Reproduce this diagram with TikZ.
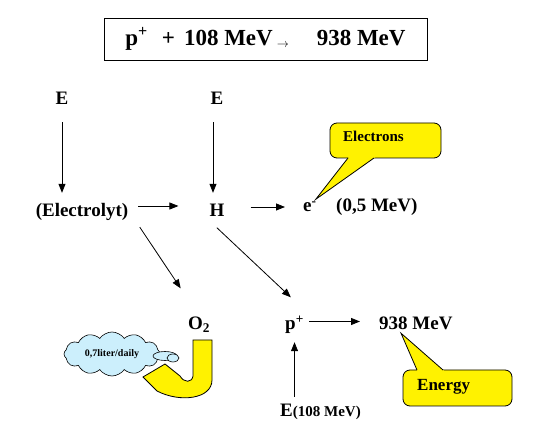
\documentclass[tikz,border=0pt]{standalone}
\usepackage{fontspec}
\setmainfont{Liberation Serif}
\usetikzlibrary{arrows.meta,shapes.symbols,calc}

\tikzset{
  lbl/.style={font=\fontsize{19}{22}\selectfont\bfseries, inner sep=1pt, text height=13pt, text depth=4pt},
  arr/.style={-{Triangle[length=9pt,width=7pt]}, line width=0.8pt},
  bubble/.style={fill=yellow, draw=black, line width=0.8pt},
}

\begin{document}
\begin{tikzpicture}[x=1pt,y=-1pt]
% 画布大小
\useasboundingbox[fill=white] (0,0) rectangle (539,443);

% 顶部方程
\node[draw, line width=0.8pt, minimum width=323pt, minimum height=42pt, inner sep=0pt,
      font=\fontsize{23}{25}\selectfont\bfseries] (eq) at (265.5,39)
  {p\textsuperscript{+}\hspace{14pt}+\hspace{9pt}108 MeV\hspace{4pt}\raisebox{-2pt}{\fontsize{12}{12}\selectfont$\rightarrow$}\hspace{28pt}938 MeV};

% 文字节点
\node[lbl] (eL) at (62,100.5) {E};
\node[lbl] (eM) at (217,100.5) {E};
\node[lbl] (elec) at (82,212.5) {(Electrolyt)};
\node[lbl] (h) at (217,212.5) {H};
\node[lbl, anchor=west] (el) at (302,207) {e\textsuperscript{-}};
\node[lbl, anchor=west] (mev) at (335,207) {(0,5 MeV)};
\node[lbl] (o2) at (199,325.5) {O\textsubscript{2}};
\node[lbl, anchor=west] (pp) at (284,325.5) {p\textsuperscript{+}};
\node[lbl, anchor=west] (big) at (378,325.5) {938 MeV};
\node[lbl, anchor=west] (eb) at (279,412.5) {E{\fontsize{15}{15}\selectfont(108 MeV)}};

% 箭头
\draw[arr, shorten <=12pt, shorten >=10pt] (eL.south) -- (eL.south |- elec.north);
\draw[arr, shorten <=12pt, shorten >=10pt] ([xshift=-4pt]eM.south) -- ([xshift=-4pt]eM.south |- h.north);
\draw[arr, shorten <=9pt, shorten >=30pt] ([yshift=6.5pt]elec.east) -- ([yshift=6.5pt]h.west);
\draw[arr, shorten <=25pt, shorten >=17pt] ([yshift=5.5pt]h.east) -- ([yshift=5.5pt]h.east -| el.west);
\draw[arr, shorten <=6pt, shorten >=33pt] ([xshift=7pt]elec.south east) -- (o2.north);
\draw[arr, shorten <=8pt, shorten >=27pt] ([xshift=-6pt]h.south) -- ([xshift=16pt]pp.north);
\draw[arr, shorten <=4pt, shorten >=18pt] ([yshift=4pt]pp.east) -- ([yshift=4pt]pp.east -| big.west);
\draw[arr, shorten <=6pt, shorten >=7pt] (pp.south |- eb.north) -- (pp.south);

% 气泡 Electrons
\draw[bubble, rounded corners=7pt] (330,123) rectangle (441,158);
\coordinate (tipA) at ([xshift=-2pt,yshift=-2pt]el.north east);
\fill[yellow] (tipA) -- ($(tipA)!1.06!(348,158)$) -- ($(tipA)!1.06!(374,158)$) -- cycle;
\draw[line width=0.8pt] (348,158) -- (tipA) -- (374,158);
\node[font=\fontsize{15}{15}\selectfont\bfseries, anchor=base west, inner sep=0pt] (etxt) at (343,142) {Electrons};

% 气泡 Energy
\draw[bubble, rounded corners=7pt] (403,370) rectangle (512,406);
\coordinate (tipB) at ([xshift=23pt,yshift=2pt]big.south west);
\fill[yellow] (tipB) -- ($(tipB)!1.06!(417,370)$) -- ($(tipB)!1.06!(443,370)$) -- cycle;
\draw[line width=0.8pt] (417,370) -- (tipB) -- (443,370);
\node[font=\fontsize{17}{17}\selectfont\bfseries, anchor=base west, inner sep=0pt] (ntxt) at (417,391) {Energy};

% 云
\node[cloud, cloud puffs=12, cloud puff arc=110, aspect=2.2, draw, line width=0.6pt, fill=cyan!20,
      minimum width=96pt, minimum height=44pt, inner sep=0pt,
      font=\fontsize{10}{10}\selectfont\bfseries] (cl) at (112,354) {0,7liter/daily};
\draw[fill=cyan!20, line width=0.6pt] (165,356) ellipse (12pt and 4.5pt);
\draw[fill=cyan!20, line width=0.6pt] (173,358) ellipse (6pt and 4pt);

% 黄色弯箭头
\draw[fill=yellow, line width=0.8pt] (143,377) -- (165,364) -- (180,376)
  .. controls (184,383) and (192,383) .. (193,376) -- (193,340) -- (212,340) -- (212,380)
  .. controls (212,399) and (180,403) .. (157,391) -- cycle;
\end{tikzpicture}
\end{document}
